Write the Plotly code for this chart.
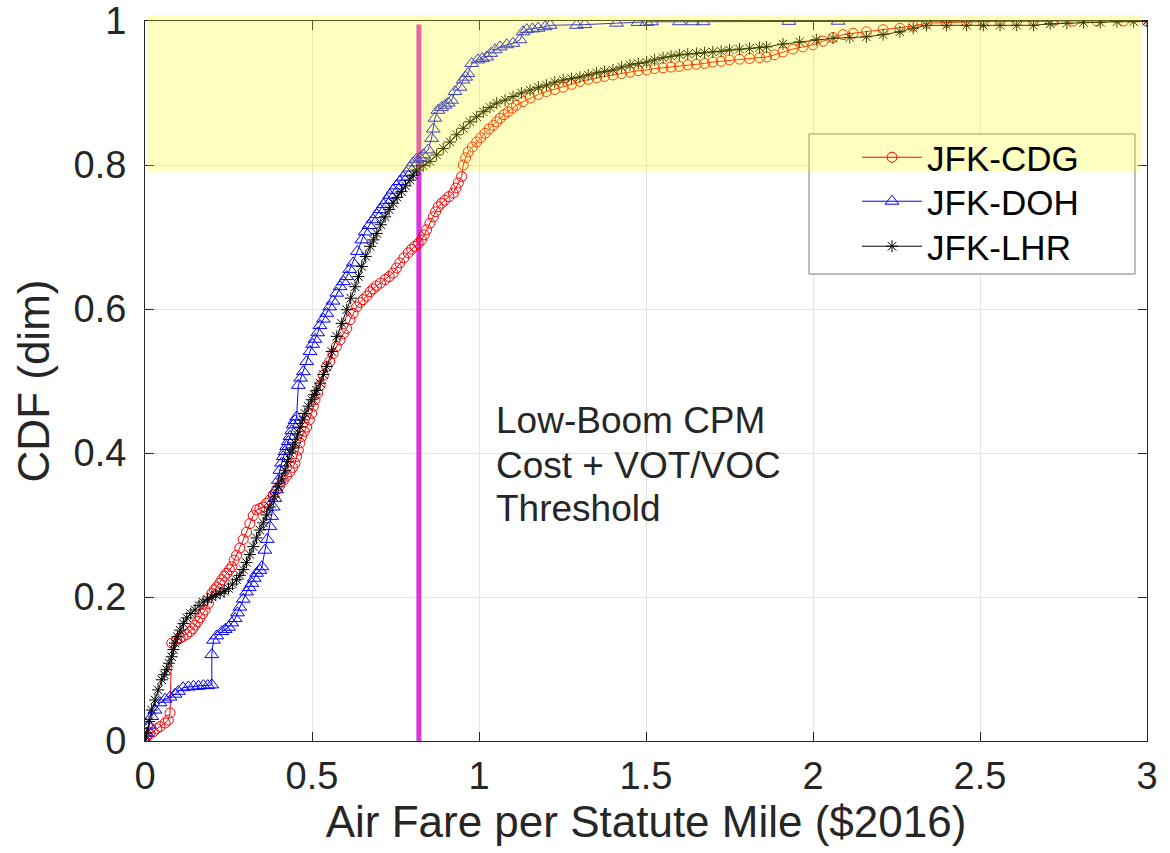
import plotly.graph_objects as go

# ---------------- data ----------------
cdg_x = [0, 0.005, 0.015, 0.025, 0.035, 0.045, 0.06, 0.07, 0.075, 0.08, 0.095, 0.105, 0.114, 0.125, 0.135,
         0.143, 0.15, 0.158, 0.165, 0.173, 0.18, 0.19, 0.2, 0.208, 0.215, 0.223, 0.23, 0.238, 0.245, 0.253,
         0.26, 0.267, 0.274, 0.284, 0.294, 0.304, 0.314, 0.324, 0.334, 0.344, 0.354, 0.364, 0.374, 0.384,
         0.394, 0.404, 0.414, 0.424, 0.434, 0.442, 0.449, 0.454, 0.459, 0.464, 0.469, 0.477, 0.484, 0.492,
         0.499, 0.504, 0.509, 0.517, 0.524, 0.534, 0.544, 0.553, 0.563, 0.573, 0.584, 0.594, 0.604, 0.614,
         0.623, 0.634, 0.644, 0.653, 0.664, 0.674, 0.683, 0.693, 0.705, 0.719, 0.731, 0.743, 0.753, 0.763,
         0.775, 0.788, 0.798, 0.808, 0.818, 0.828, 0.836, 0.843, 0.853, 0.863, 0.87, 0.878, 0.888, 0.898,
         0.91, 0.923, 0.931, 0.938, 0.948, 0.953, 0.96, 0.968, 0.98, 0.993, 1.005, 1.018, 1.03, 1.043,
         1.053, 1.063, 1.075, 1.087, 1.1, 1.112, 1.132, 1.153, 1.178, 1.202, 1.227, 1.252, 1.277, 1.302,
         1.327, 1.352, 1.376, 1.401, 1.427, 1.452, 1.477, 1.502, 1.526, 1.551, 1.575, 1.6, 1.625, 1.651,
         1.675, 1.7, 1.725, 1.75, 1.78, 1.81, 1.84, 1.861, 1.885, 1.91, 1.94, 1.97, 2.0, 2.03, 2.06, 2.09,
         2.12, 2.16, 2.21, 2.26, 2.3, 2.34, 2.4, 2.46, 2.51, 2.56, 2.61, 2.66, 2.72, 2.78, 2.85, 2.93, 3.0]
cdg_y = [0, 0.006, 0.01, 0.013, 0.017, 0.02, 0.025, 0.029, 0.039, 0.136, 0.14, 0.143, 0.145, 0.148, 0.152,
         0.156, 0.161, 0.166, 0.171, 0.177, 0.182, 0.191, 0.205, 0.21, 0.214, 0.219, 0.224, 0.229, 0.233, 0.238,
         0.242, 0.251, 0.258, 0.268, 0.28, 0.29, 0.302, 0.313, 0.321, 0.323, 0.325, 0.33, 0.335, 0.342,
         0.349, 0.355, 0.362, 0.368, 0.374, 0.38, 0.386, 0.395, 0.404, 0.414, 0.423, 0.43, 0.436, 0.446,
         0.455, 0.465, 0.474, 0.483, 0.494, 0.508, 0.52, 0.527, 0.538, 0.548, 0.557, 0.566, 0.573, 0.585,
         0.594, 0.603, 0.609, 0.613, 0.618, 0.624, 0.628, 0.632, 0.636, 0.641, 0.645, 0.65, 0.657, 0.664,
         0.671, 0.678, 0.683, 0.687, 0.691, 0.696, 0.703, 0.71, 0.719, 0.728, 0.735, 0.742, 0.747, 0.751,
         0.756, 0.761, 0.768, 0.775, 0.784, 0.8, 0.81, 0.818, 0.825, 0.832, 0.838, 0.844, 0.85, 0.855,
         0.86, 0.865, 0.87, 0.874, 0.879, 0.883, 0.888, 0.893, 0.898, 0.902, 0.905, 0.908, 0.912, 0.916,
         0.919, 0.921, 0.923, 0.925, 0.927, 0.929, 0.931, 0.932, 0.934, 0.935, 0.936, 0.937, 0.939, 0.94,
         0.941, 0.943, 0.944, 0.946, 0.947, 0.948, 0.949, 0.95, 0.953, 0.957, 0.961, 0.964, 0.967, 0.972, 0.977, 0.981,
         0.983, 0.985, 0.988, 0.99, 0.993, 0.997, 0.998, 0.999, 0.999, 1.0, 1.0, 1.0, 1.0, 1.0, 1.0, 1.0, 1.0]

doh_x = [0, 0.005, 0.012, 0.02, 0.03, 0.045, 0.06, 0.075, 0.09, 0.1, 0.114, 0.13, 0.145, 0.16, 0.175, 0.188,
         0.2, 0.2, 0.205, 0.215, 0.23, 0.24, 0.25, 0.26, 0.27, 0.277, 0.284, 0.294, 0.304, 0.312, 0.32, 0.327,
         0.334, 0.344, 0.35, 0.359, 0.366, 0.374, 0.379, 0.384, 0.389, 0.394, 0.399, 0.404, 0.409, 0.414,
         0.419, 0.424, 0.429, 0.434, 0.439, 0.444, 0.449, 0.454, 0.459, 0.466, 0.474, 0.484, 0.494, 0.502,
         0.509, 0.517, 0.524, 0.534, 0.544, 0.553, 0.563, 0.574, 0.584, 0.594, 0.604, 0.613, 0.623, 0.636,
         0.649, 0.659, 0.671, 0.683, 0.694, 0.704, 0.714, 0.724, 0.733, 0.743, 0.753, 0.763, 0.773, 0.783,
         0.793, 0.803, 0.813, 0.823, 0.833, 0.848, 0.858, 0.863, 0.868, 0.877, 0.888, 0.898, 0.908, 0.918,
         0.928, 0.943, 0.952, 0.96, 0.967, 0.978, 0.997, 1.01, 1.023, 1.035, 1.048, 1.063, 1.083, 1.102,
         1.123, 1.132, 1.143, 1.16, 1.177, 1.198, 1.213, 1.292, 1.317, 1.412, 1.476, 1.502, 1.517, 1.6,
         1.64, 1.671, 1.928, 2.075, 2.715]
doh_y = [0, 0.011, 0.022, 0.034, 0.043, 0.053, 0.058, 0.061, 0.065, 0.069, 0.074, 0.075, 0.076, 0.076, 0.077,
         0.077, 0.078, 0.12, 0.14, 0.146, 0.152, 0.155, 0.158, 0.164, 0.17, 0.178, 0.186, 0.197, 0.207, 0.213,
         0.219, 0.226, 0.233, 0.237, 0.242, 0.265, 0.28, 0.298, 0.312, 0.325, 0.337, 0.349, 0.362, 0.376,
         0.386, 0.395, 0.402, 0.409, 0.416, 0.423, 0.431, 0.439, 0.445, 0.45, 0.494, 0.504, 0.513, 0.527,
         0.541, 0.551, 0.558, 0.567, 0.577, 0.586, 0.594, 0.603, 0.611, 0.622, 0.631, 0.638, 0.645, 0.655,
         0.664, 0.68, 0.696, 0.707, 0.716, 0.724, 0.731, 0.738, 0.745, 0.751, 0.758, 0.765, 0.771, 0.777,
         0.783, 0.789, 0.796, 0.803, 0.808, 0.81, 0.814, 0.821, 0.837, 0.85, 0.865, 0.876, 0.88, 0.883,
         0.886, 0.89, 0.902, 0.908, 0.918, 0.922, 0.927, 0.941, 0.946, 0.948, 0.95, 0.955, 0.96, 0.964,
         0.967, 0.969, 0.974, 0.985, 0.988, 0.989, 0.99, 0.992, 0.994, 0.994, 0.995, 0.997, 0.998, 0.998,
         0.999, 0.999, 0.999, 0.999, 0.9995, 0.9997, 1.0]

lhr_x = [0, 0.005, 0.012, 0.02, 0.03, 0.039, 0.05, 0.058, 0.065, 0.072, 0.08, 0.085, 0.09, 0.097, 0.105,
         0.115, 0.125, 0.137, 0.15, 0.162, 0.174, 0.187, 0.2, 0.212, 0.225, 0.237, 0.25, 0.262, 0.274, 0.284,
         0.294, 0.304, 0.314, 0.324, 0.334, 0.344, 0.354, 0.364, 0.374, 0.386, 0.399, 0.409, 0.419, 0.427,
         0.434, 0.442, 0.449, 0.457, 0.464, 0.472, 0.479, 0.489, 0.499, 0.507, 0.514, 0.524, 0.534, 0.544,
         0.559, 0.574, 0.589, 0.604, 0.616, 0.629, 0.639, 0.649, 0.661, 0.674, 0.684, 0.694, 0.706, 0.719,
         0.731, 0.743, 0.755, 0.768, 0.78, 0.793, 0.803, 0.813, 0.833, 0.853, 0.873, 0.893, 0.913, 0.933,
         0.953, 0.973, 0.993, 1.013, 1.033, 1.053, 1.078, 1.102, 1.127, 1.153, 1.178, 1.202, 1.227, 1.252,
         1.277, 1.302, 1.327, 1.352, 1.376, 1.401, 1.427, 1.452, 1.477, 1.502, 1.526, 1.551, 1.575, 1.6,
         1.625, 1.651, 1.675, 1.7, 1.725, 1.75, 1.78, 1.81, 1.84, 1.861, 1.91, 1.96, 2.01, 2.06, 2.11, 2.16,
         2.21, 2.26, 2.3, 2.34, 2.4, 2.46, 2.51, 2.56, 2.61, 2.66, 2.71, 2.76, 2.81, 2.86, 2.91, 2.96, 3.0]
lhr_y = [0, 0.011, 0.027, 0.043, 0.057, 0.071, 0.085, 0.092, 0.099, 0.108, 0.117, 0.127, 0.136, 0.145, 0.154,
         0.163, 0.171, 0.177, 0.182, 0.188, 0.193, 0.197, 0.2, 0.203, 0.205, 0.208, 0.212, 0.218, 0.224, 0.23,
         0.238, 0.248, 0.259, 0.27, 0.282, 0.293, 0.303, 0.314, 0.325, 0.339, 0.353, 0.364, 0.376, 0.388,
         0.4, 0.407, 0.414, 0.425, 0.436, 0.446, 0.455, 0.465, 0.474, 0.481, 0.487, 0.497, 0.509, 0.52,
         0.541, 0.562, 0.58, 0.599, 0.615, 0.631, 0.645, 0.659, 0.673, 0.687, 0.696, 0.705, 0.717, 0.728,
         0.738, 0.747, 0.755, 0.763, 0.771, 0.779, 0.786, 0.793, 0.799, 0.805, 0.814, 0.823, 0.832, 0.842,
         0.851, 0.86, 0.867, 0.874, 0.88, 0.886, 0.89, 0.895, 0.9, 0.904, 0.908, 0.911, 0.915, 0.918,
         0.92, 0.922, 0.925, 0.928, 0.93, 0.932, 0.936, 0.939, 0.941, 0.943, 0.946, 0.949, 0.951, 0.953,
         0.954, 0.955, 0.956, 0.957, 0.958, 0.96, 0.961, 0.962, 0.963, 0.964, 0.968, 0.971, 0.974, 0.976,
         0.977, 0.978, 0.981, 0.985, 0.99, 0.994, 0.994, 0.994, 0.994, 0.994, 0.994, 0.994, 0.996, 0.997,
         0.998, 0.998, 0.999, 0.999, 1.0]

threshold_x = 0.82
threshold_y = [0, 0.995]
band_y = [0.7917, 1.0083]

x_ticks = [0, 0.5, 1, 1.5, 2, 2.5, 3]
x_ticktext = ["0", "0.5", "1", "1.5", "2", "2.5", "3"]
y_ticks = [0, 0.2, 0.4, 0.6, 0.8, 1]
y_ticktext = ["0", "0.2", "0.4", "0.6", "0.8", "1"]

note_lines = ["Low-Boom CPM", "Cost + VOT/VOC", "Threshold"]
note_y = [0.445, 0.383, 0.323]

# ---------------- figure ----------------
FONT = "Liberation Sans, Arial, Helvetica, sans-serif"
TXT = "#262626"

fig = go.Figure()

fig.add_trace(go.Scatter(
    x=[threshold_x, threshold_x], y=threshold_y, mode="lines",
    line=dict(color="#d936d9", width=5), showlegend=False, hoverinfo="skip"))

fig.add_trace(go.Scatter(
    x=cdg_x, y=cdg_y, mode="lines+markers", name="JFK-CDG", legend="legend",
    line=dict(color="#ff0000", width=1),
    marker=dict(symbol="circle-open", size=10, color="#ff0000", line=dict(width=1))))
fig.add_trace(go.Scatter(
    x=doh_x, y=doh_y, mode="lines+markers", name="JFK-DOH", legend="legend2",
    line=dict(color="#0000ff", width=1),
    marker=dict(symbol="triangle-up-open", size=12, color="#0000ff", line=dict(width=1))))
fig.add_trace(go.Scatter(
    x=lhr_x, y=lhr_y, mode="lines+markers", name="JFK-LHR", legend="legend3",
    line=dict(color="#000000", width=1),
    marker=dict(symbol="asterisk-open", size=10, color="#000000", line=dict(width=1))))

for txt, yy in zip(note_lines, note_y):
    fig.add_annotation(x=1.045, y=yy, xref="x", yref="y", text=txt, showarrow=False,
                       xanchor="left", yanchor="middle", align="left",
                       font=dict(family=FONT, size=37, color=TXT))

# legend box (white) then the translucent yellow band on top of everything
fig.add_shape(type="rect", xref="paper", yref="paper", x0=0.6627, x1=0.988, y0=0.6486, y1=0.8431,
              fillcolor="white", line=dict(color="#7a7a7a", width=1), layer="above")
fig.add_shape(type="rect", xref="paper", yref="paper", x0=0.003, x1=0.995, y0=band_y[0], y1=band_y[1],
              fillcolor="rgba(255,255,0,0.25)", line=dict(width=0), layer="above")

axis_common = dict(
    showgrid=True, gridcolor="#e3e3e3", gridwidth=1, zeroline=False,
    showline=True, linecolor=TXT, linewidth=1, mirror="ticks",
    ticks="inside", ticklen=9, tickcolor=TXT, tickwidth=1, automargin=False,
    ticklabeloverflow="allow",
    tickfont=dict(family=FONT, size=38, color=TXT),
)

legend_common = dict(xanchor="left", yanchor="top", bgcolor="rgba(0,0,0,0)", borderwidth=0,
                     itemwidth=60, font=dict(family=FONT, size=35, color="#000000"))

fig.update_layout(
    width=1170, height=853,
    margin=dict(l=145, r=23, t=21, b=112, autoexpand=False),
    paper_bgcolor="white", plot_bgcolor="white",
    font=dict(family=FONT, color=TXT),
    xaxis=dict(range=[0, 3], tickvals=x_ticks, ticktext=x_ticktext,
               title=dict(text="Air Fare per Statute Mile ($2016)", font=dict(family=FONT, size=44, color=TXT),
                          standoff=7),
               ticklabelstandoff=1, **axis_common),
    yaxis=dict(range=[0, 1], tickvals=y_ticks, ticktext=y_ticktext,
               title=dict(text="CDF (dim)", font=dict(family=FONT, size=44, color=TXT), standoff=10),
               ticklabelstandoff=10, **axis_common),
    legend=dict(x=0.7106, y=0.8514, **legend_common),
    legend2=dict(x=0.7106, y=0.7903, **legend_common),
    legend3=dict(x=0.7106, y=0.7278, **legend_common),
    showlegend=True,
)

# remove the default 8px page margin so the 1170x853 figure fills the window exactly
fig.write_html("out.html", config={"displayModeBar": False},
               post_script="document.body.style.margin='0px';")
